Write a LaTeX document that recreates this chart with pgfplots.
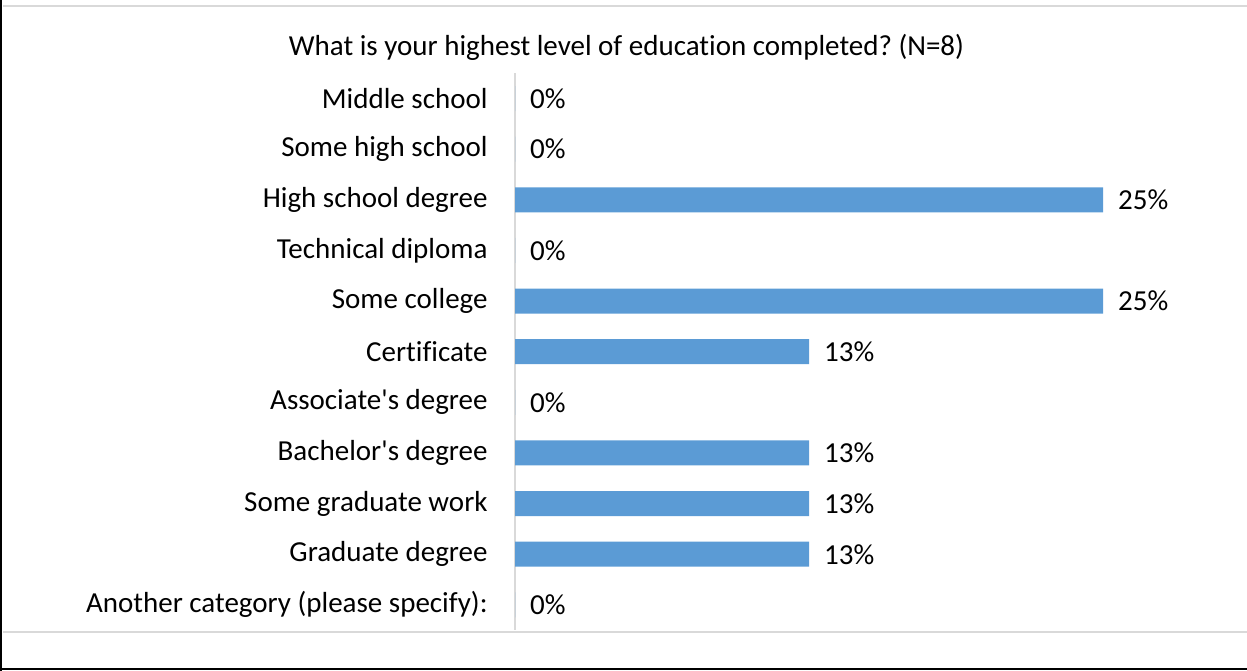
\documentclass[border=0pt]{standalone}
\usepackage{pgfplots}
\pgfplotsset{compat=1.18}
\usepackage{fontspec}
\setmainfont{Carlito}[Ligatures={NoCommon,NoContextual}]
\frenchspacing
\definecolor{barblue}{HTML}{5B9BD5}
\definecolor{linegray}{HTML}{D9D9D9}
\newcommand{\chartfont}{\fontsize{29bp}{33bp}\selectfont}
\begin{document}
\begin{tikzpicture}[x=1bp,y=1bp,font=\chartfont]
\path[use as bounding box] (0,0) rectangle (1247,671);
% frame
\draw[black, line width=2bp] (1,0) -- (1,671);
\draw[black, line width=2bp] (0,1.5) -- (1247,1.5);
\draw[linegray, line width=2bp] (3,665) -- (1247,665);
\draw[linegray, line width=2bp] (3,39) -- (1247,39);
\node[anchor=base] at (626.5,615) {What is your highest level of educa{}tion completed? (N=8)};
\begin{axis}[
  at={(515bp,40.8bp)}, anchor=south west,
  scale only axis, width=588bp, height=557bp,
  xmin=0, xmax=25, ymin=-0.5, ymax=10.5, y dir=reverse,
  xbar, bar width=25bp,
  axis x line=none, axis y line*=left,
  y axis line style={linegray, line width=1.5bp, -},
  ytick={0,...,10},
  yticklabels={Middle school, Some high school, High school degree, Technical diploma,
    Some college, Certif{}icate, Associate\textquotesingle s degree, Bachelor\textquotesingle s degree,
    Some graduate work, Graduate degree, Another category (please specify):},
  ytick style={draw=none},
  yticklabel style={inner sep=0pt, xshift=-23bp, font=\chartfont},
  nodes near coords, point meta=explicit symbolic,
  nodes near coords style={anchor=west, inner sep=0pt, xshift=15bp, font=\chartfont},
  clip=false,
]
\addplot[fill=barblue, draw=none] coordinates {
(0,0) [0\%]
(0,1) [0\%]
(25,2) [25\%]
(0,3) [0\%]
(25,4) [25\%]
(12.5,5) [13\%]
(0,6) [0\%]
(12.5,7) [13\%]
(12.5,8) [13\%]
(12.5,9) [13\%]
(0,10) [0\%]
};
\end{axis}
\end{tikzpicture}
\end{document}
